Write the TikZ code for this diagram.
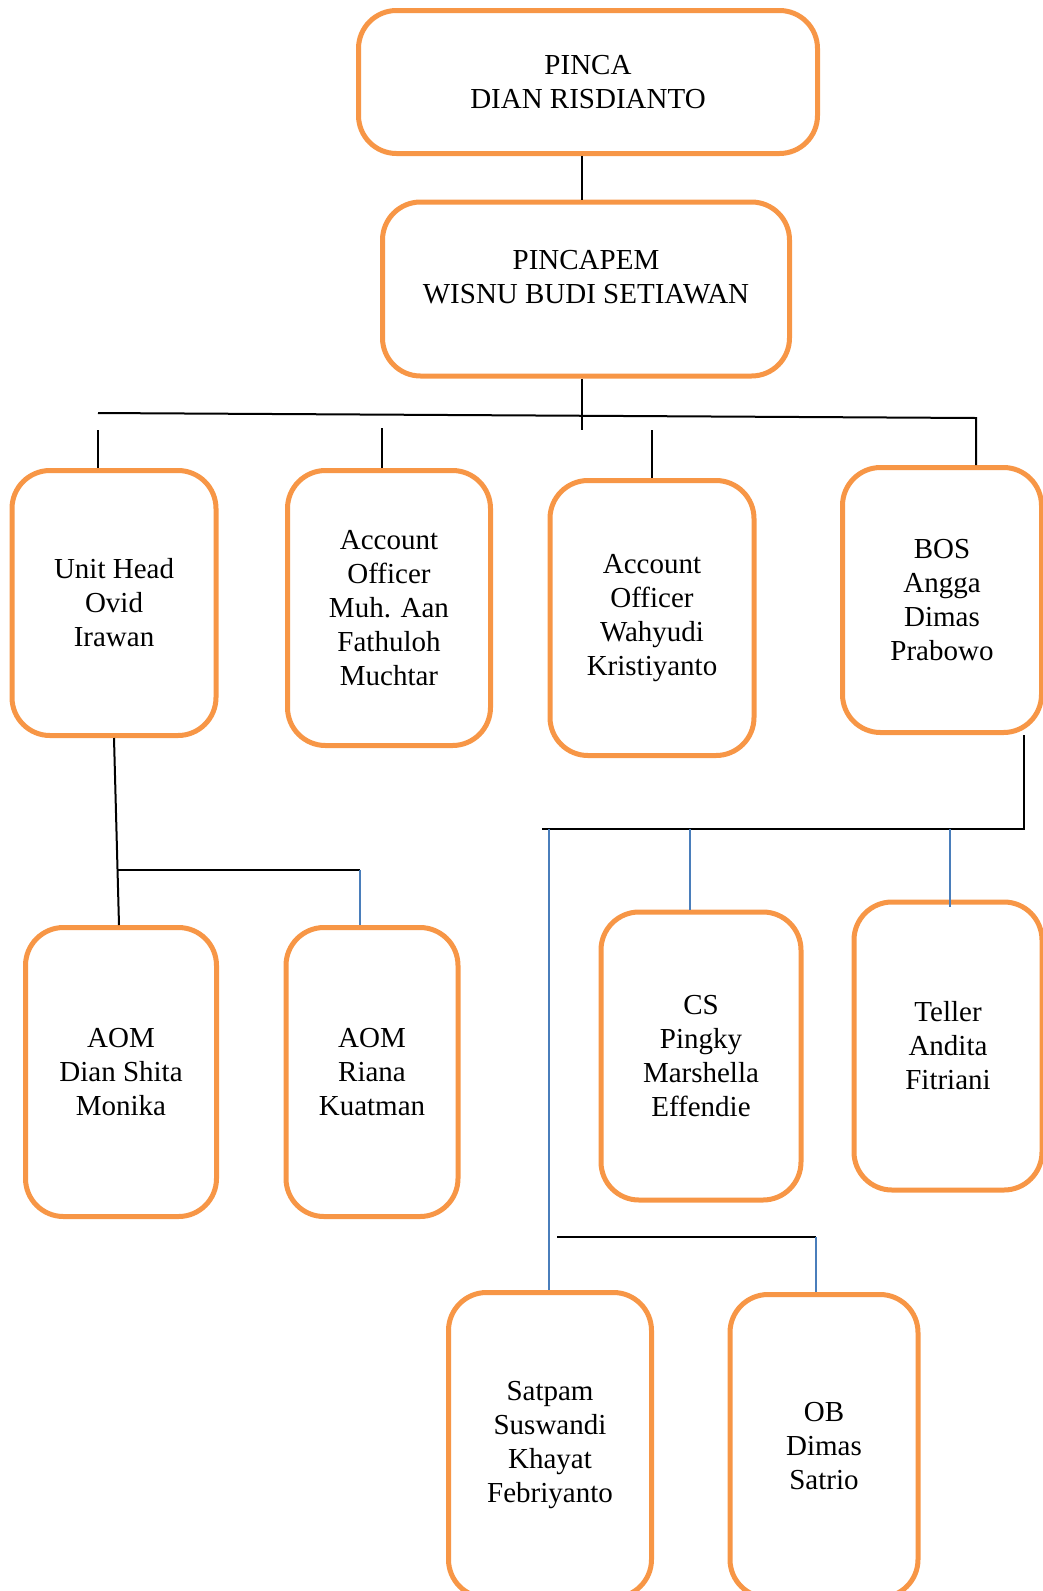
\documentclass[tikz,border=0pt]{standalone}
\usepackage{fontspec}
\setmainfont{Liberation Serif}
\definecolor{boxorange}{HTML}{F79646}
\definecolor{lineblue}{HTML}{4A7EBB}
\tikzset{
    staff/.style={draw=boxorange, line width=5pt, rounded corners=38pt, fill=white,
        align=center, inner sep=0pt, font=\fontsize{29}{34}\selectfont},
    link/.style={draw=black, line width=2pt},
    sublink/.style={draw=lineblue, line width=1.6pt}
}
\begin{document}
\begin{tikzpicture}[x=1pt, y=-1pt]
\useasboundingbox (0,0) rectangle (1043,1591);
\begin{scope}[every node/.style={staff}]
    \node[minimum width=459pt, minimum height=143pt] (pinca) at (588,82) {PINCA\\DIAN RISDIANTO};
    \node[minimum width=407pt, minimum height=174pt] (pincapem) at (586,289) {PINCAPEM\\WISNU BUDI SETIAWAN\\[-20pt]\strut};
    \node[minimum width=204pt, minimum height=265pt] (unithead) at (114,603) {Unit Head\\Ovid\\Irawan};
    \node[minimum width=203pt, minimum height=275pt] (ao1) at (389,608) {Account\\Officer\\Muh. Aan\\Fathuloh\\Muchtar};
    \node[minimum width=204pt, minimum height=275pt] (ao2) at (652,618) {Account\\Officer\\Wahyudi\\Kristiyanto};
    \node[minimum width=199pt, minimum height=265pt] (bos) at (942,600) {BOS\\Angga\\Dimas\\Prabowo};
    \node[minimum width=191pt, minimum height=289pt] (aom1) at (121,1072) {AOM\\Dian Shita\\Monika};
    \node[minimum width=172pt, minimum height=289pt] (aom2) at (372,1072) {AOM\\Riana\\Kuatman};
    \node[minimum width=200pt, minimum height=288pt] (cs) at (701,1056) {CS\\Pingky\\Marshella\\Effendie};
    \node[minimum width=188pt, minimum height=288pt] (teller) at (948,1046) {Teller\\Andita\\Fitriani};
    \node[minimum width=203pt, minimum height=305pt] (satpam) at (550,1445) {Satpam\\Suswandi\\Khayat\\Febriyanto};
    \node[minimum width=188pt, minimum height=303pt] (ob) at (824,1446) {OB\\Dimas\\Satrio};
\end{scope}
% junction points
\coordinate (mid) at (582,430);
\coordinate (barl) at (98,413);
\coordinate (barr) at (976,418);
\coordinate (stub1) at (98,430);
\coordinate (stub2) at (382,428);
\coordinate (stub3) at (652,430);
\coordinate (aomj) at (118,870);
\coordinate (aomr) at (360,870);
\coordinate (bosj) at (1024,829);
\coordinate (opsl) at (542,829);
\coordinate (opsa) at (549,829);
\coordinate (opsb) at (690,829);
\coordinate (opsc) at (950,829);
\coordinate (obl) at (557,1237);
\coordinate (obr) at (816,1237);
\begin{scope}[every path/.style={link}]
    \path (pinca.south -| mid) edge (pincapem.north -| mid);
    \path (pincapem.south -| mid) edge (mid);
    \draw (barl) -- (barr) -- (barr |- bos.north);
    \path (stub1) edge (stub1 |- unithead.north);
    \path (stub2) edge (stub2 |- ao1.north);
    \path (stub3) edge (stub3 |- ao2.north);
    \path (unithead.south) edge ([xshift=-2pt]aom1.north);
    \path (aomj) edge (aomr);
    \draw (bos.south -| bosj) -- (bosj) -- (opsl);
    \path (obl) edge (obr);
\end{scope}
\begin{scope}[every path/.style={sublink}]
    \path (aomr) edge (aomr |- aom2.north);
    \path (opsa) edge (opsa |- satpam.north);
    \path (opsb) edge (opsb |- cs.north);
    \path (opsc) edge ([yshift=-7pt]opsc |- teller.north);
    \path (obr) edge (obr |- ob.north);
\end{scope}
\end{tikzpicture}
\end{document}
